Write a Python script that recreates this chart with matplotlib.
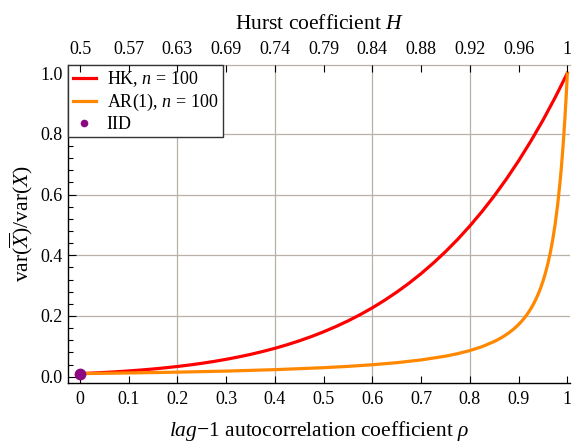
import matplotlib
matplotlib.use("Agg")
import matplotlib.pyplot as plt
from matplotlib.ticker import MultipleLocator

plt.rcParams['font.family'] = ['Liberation Serif', 'DejaVu Serif']
plt.rcParams['mathtext.fontset'] = 'custom'
plt.rcParams['mathtext.rm'] = 'Liberation Serif'
plt.rcParams['mathtext.it'] = 'Liberation Serif:italic'

# HK process, n = 100
rho_hk = [0.0, 0.025, 0.05, 0.075, 0.1, 0.125, 0.15, 0.175, 0.2, 0.225, 0.25,
          0.275, 0.3, 0.325, 0.35, 0.375, 0.4, 0.425, 0.45, 0.475, 0.5,
          0.525, 0.55, 0.575, 0.6, 0.625, 0.65, 0.675, 0.7, 0.725, 0.75,
          0.775, 0.8, 0.825, 0.85, 0.875, 0.9, 0.925, 0.95, 0.975, 1.0]
var_hk = [0.0100, 0.0118, 0.0138, 0.0162, 0.0188, 0.0219, 0.0253, 0.0292,
          0.0336, 0.0385, 0.0440, 0.0502, 0.0572, 0.0649, 0.0734, 0.0830,
          0.0935, 0.1052, 0.1181, 0.1323, 0.1479, 0.1651, 0.1838, 0.2045,
          0.2270, 0.2517, 0.2786, 0.3078, 0.3397, 0.3743, 0.4118, 0.4525,
          0.4966, 0.5443, 0.5957, 0.6513, 0.7112, 0.7758, 0.8451, 0.9199, 1.0]

# AR(1) process, n = 100
rho_ar = [0.0, 0.1, 0.2, 0.3, 0.4, 0.5, 0.55, 0.6, 0.65, 0.7, 0.75, 0.775,
          0.8, 0.825, 0.85, 0.86, 0.87, 0.88, 0.89, 0.895, 0.9, 0.905, 0.91,
          0.915, 0.92, 0.925, 0.93, 0.935, 0.94, 0.945, 0.95, 0.955, 0.96,
          0.965, 0.97, 0.975, 0.98, 0.985, 0.9875, 0.99, 0.9925, 0.995,
          0.9975, 0.999, 1.0]
var_ar = [0.0100, 0.0122, 0.0149, 0.0184, 0.0231, 0.0296, 0.0339, 0.0393,
          0.0461, 0.0551, 0.0676, 0.0758, 0.0860, 0.0989, 0.1158, 0.1241,
          0.1336, 0.1444, 0.1571, 0.1642, 0.1720, 0.1805, 0.1898, 0.2000,
          0.2113, 0.2238, 0.2378, 0.2535, 0.2712, 0.2914, 0.3145, 0.3411,
          0.3720, 0.4083, 0.4514, 0.5028, 0.5650, 0.6409, 0.6853, 0.7347,
          0.7900, 0.8519, 0.9213, 0.9662, 1.0]

# IID point
rho_iid = [0.0]
var_iid = [0.01]

rho_ticks = [0.0, 0.1, 0.2, 0.3, 0.4, 0.5, 0.6, 0.7, 0.8, 0.9, 1.0]
rho_labels = ["0", "0.1", "0.2", "0.3", "0.4", "0.5", "0.6", "0.7", "0.8", "0.9", "1"]
H_labels = ["0.5", "0.57", "0.63", "0.69", "0.74", "0.79", "0.84", "0.88", "0.92", "0.96", "1"]

grid_col = '#b8b1a8'

fig = plt.figure(figsize=(5.74, 4.48), dpi=100)
ax = fig.add_axes([0.1185, 0.145, 0.875, 0.71])

for g in [0.2, 0.4, 0.6, 0.8]:
    ax.axvline(g, color=grid_col, lw=0.9, zorder=0)
    ax.axhline(g, color=grid_col, lw=0.9, zorder=0)

ax.plot(rho_hk, var_hk, color='#ff0000', lw=2.3, label=r'HK, $n$ = 100', zorder=3)
ax.plot(rho_ar, var_ar, color='#ff8800', lw=2.3, label=r'AR(1), $n$ = 100', zorder=3)
ax.plot(rho_iid, var_iid, 'o', color='#8b0a82', ms=7.5, label='IID', zorder=4, clip_on=False)

ax.set_xlim(-0.0246, 1.006)
ax.set_ylim(-0.021, 1.027)

ax.set_xticks(rho_ticks)
ax.set_xticklabels(rho_labels)
ax.yaxis.set_major_locator(MultipleLocator(0.2))
ax.yaxis.set_minor_locator(MultipleLocator(0.04))
ax.yaxis.set_major_formatter(plt.FormatStrFormatter('%.1f'))
ax.tick_params(axis='x', direction='in', length=5, width=0.8, labelsize=13, pad=6, top=False)
ax.tick_params(axis='y', which='major', direction='in', length=6, width=0.8, labelsize=13, pad=4)
ax.tick_params(axis='y', which='minor', direction='in', length=3.5, width=0.8)

ax.spines['right'].set_visible(False)
ax.spines['top'].set_color(grid_col)
ax.spines['top'].set_linewidth(0.9)
ax.spines['left'].set_linewidth(1.0)
ax.spines['bottom'].set_linewidth(1.0)

ax.set_xlabel(r'$lag$$-$1 autocorrelation coefficient $\rho$', fontsize=15.5, labelpad=8)
ax.set_ylabel(r'var$(\overline{X})$/var$(X)$', fontsize=15.5, labelpad=4)

# top axis with Hurst coefficient
ax2 = ax.twiny()
ax2.set_xlim(ax.get_xlim())
ax2.set_xticks(rho_ticks)
ax2.set_xticklabels(H_labels)
ax2.tick_params(axis='x', direction='in', length=5, width=0.8, color='black',
                labelsize=13, pad=5)
for s in ax2.spines.values():
    s.set_visible(False)
ax2.set_xlabel(r'Hurst coefficient $H$', fontsize=15.5, labelpad=9)

leg = ax.legend(loc='upper left', bbox_to_anchor=(0, 1), borderaxespad=0,
                fontsize=13, handlelength=1.3, handletextpad=0.6, markerscale=0.6,
                fancybox=False, framealpha=1, edgecolor='#333333',
                borderpad=0.25, labelspacing=0.15)
leg.get_frame().set_linewidth(1.0)

fig.savefig('out.png', dpi=100)
